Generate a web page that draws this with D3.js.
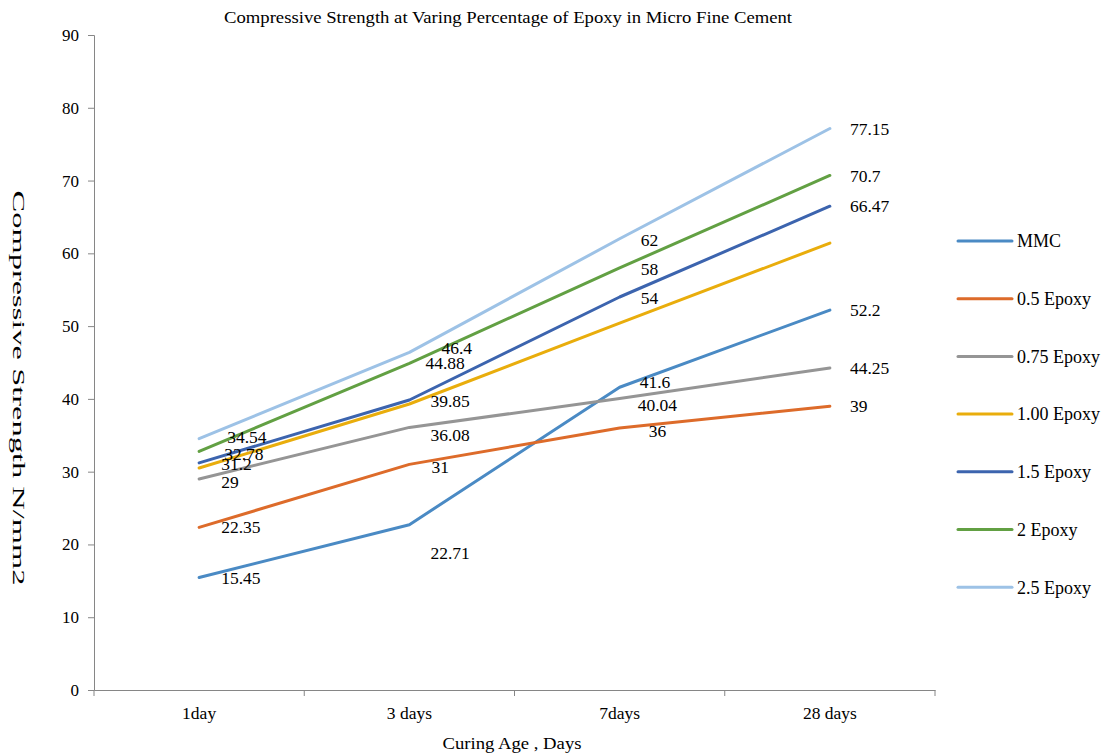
<!DOCTYPE html>
<html><head><meta charset="utf-8">
<script src="https://cdn.jsdelivr.net/npm/d3@7"></script>
<style>body{margin:0;background:#fff;} text{font-family:"Liberation Serif","Times New Roman",serif;fill:#000;}</style>
</head><body><svg id="c" width="1104" height="754"></svg>
<script>
const categories = ["1day", "3 days", "7days", "28 days"];
const seriesNames = ["MMC", "0.5 Epoxy", "0.75 Epoxy", "1.00 Epoxy", "1.5 Epoxy", "2 Epoxy", "2.5 Epoxy"];
const mmc = [15.45, 22.71, 41.6, 52.2];
const epoxy05 = [22.35, 31, 36, 39];
const epoxy075 = [29, 36.08, 40.04, 44.25];
const epoxy100 = [30.5, 39.3, 50.4, 61.4];
const epoxy15 = [31.2, 39.85, 54, 66.47];
const epoxy2 = [32.78, 44.88, 58, 70.7];
const epoxy25 = [34.54, 46.4, 62, 77.15];
const showLabels = [true, true, true, false, true, true, true];
const yTicks = [0, 10, 20, 30, 40, 50, 60, 70, 80, 90];

const colors = ["#4a8ac4", "#dd6b2a", "#959595", "#e9ad0c", "#3c64ae", "#62a043", "#9dc2e6"];
const seriesValues = [mmc, epoxy05, epoxy075, epoxy100, epoxy15, epoxy2, epoxy25];
// label nudges [seriesIndex,categoryIndex] = [dx, dy]
const nudges = {
  "0,1": [21, 28], "1,1": [22, 2], "2,1": [21, 7], "4,1": [21, 1], "5,1": [16, 0], "6,1": [32, -4],
  "0,2": [20, -5], "1,2": [29, 3], "2,2": [18, 6], "4,2": [21, 1], "5,2": [21, 1], "6,2": [21, 1],
  "5,0": [25, 2], "6,0": [28, -2], "2,0": [22, 3], "4,0": [22, 1]
};

const svg = d3.select("#c");
const L = 94, R = 935, T = 35, B = 690;
const x = d3.scaleBand().domain(categories).range([L, R]);
const y = d3.scaleLinear().domain([0, 90]).range([B, T]);
const axisColor = "#868686";

// Y axis
const ya = svg.append("g").attr("transform", `translate(${L},0)`)
  .call(d3.axisLeft(y).tickValues(yTicks).tickSize(6).tickPadding(9));
ya.select(".domain").attr("stroke", axisColor);
ya.selectAll(".tick line").attr("stroke", axisColor);
ya.selectAll(".tick text").style("font-family", '"Liberation Serif",serif').style("font-size", "17px").attr("fill", "#000");

// X axis
const xa = svg.append("g").attr("transform", `translate(0,${B})`)
  .call(d3.axisBottom(x).tickSize(0).tickPadding(17));
xa.select(".domain").attr("stroke", axisColor);
xa.selectAll(".tick line").remove();
xa.selectAll(".tick text").style("font-family", '"Liberation Serif",serif').style("font-size", "17.5px").attr("fill", "#000");
const bounds = categories.map(c => x(c)).concat([R]);
xa.selectAll(".bt").data(bounds).enter().append("line")
  .attr("x1", d => d).attr("x2", d => d).attr("y1", 0).attr("y2", 6).attr("stroke", axisColor);

// Lines
const line = d3.line().x((d, i) => x(categories[i]) + x.bandwidth() / 2).y(d => y(d));
seriesValues.forEach((vals, si) => {
  svg.append("path").datum(vals).attr("d", line).attr("fill", "none")
    .attr("stroke", colors[si]).attr("stroke-width", 3).attr("stroke-linejoin", "round").attr("stroke-linecap", "round");
});

// Labels
seriesValues.forEach((vals, si) => {
  if (!showLabels[si]) return;
  vals.forEach((v, ci) => {
    const n = nudges[si + "," + ci] || [ci === 3 ? 20 : 22, 0];
    svg.append("text")
      .attr("x", x(categories[ci]) + x.bandwidth() / 2 + n[0])
      .attr("y", y(v) + n[1])
      .attr("dy", "0.35em")
      .style("font-size", "17.5px")
      .text(v);
  });
});

// Legend
const lg = svg.append("g");
seriesNames.forEach((name, i) => {
  const yy = 241 + i * 57.7;
  lg.append("line").attr("x1", 958).attr("x2", 1012).attr("y1", yy).attr("y2", yy)
    .attr("stroke", colors[i]).attr("stroke-width", 3).attr("stroke-linecap", "round");
  lg.append("text").attr("x", 1017).attr("y", yy).attr("dy", "0.35em").style("font-size", "18px").text(name);
});

// Titles
svg.append("text").attr("x", 508).attr("y", 23).attr("text-anchor", "middle").style("font-size", "16px")
  .attr("textLength", 568).attr("lengthAdjust", "spacingAndGlyphs")
  .text("Compressive Strength at Varing Percentage of Epoxy in Micro Fine Cement");
svg.append("text").attr("x", 512).attr("y", 749).attr("text-anchor", "middle").style("font-size", "17.5px")
  .attr("textLength", 139).attr("lengthAdjust", "spacingAndGlyphs")
  .text("Curing Age , Days");
svg.append("text").attr("transform", "translate(13,388) rotate(90)").attr("text-anchor", "middle").style("font-size", "16px")
  .attr("textLength", 395).attr("lengthAdjust", "spacingAndGlyphs")
  .text("Compressive Strength N/mm2");
</script>
</body></html>
